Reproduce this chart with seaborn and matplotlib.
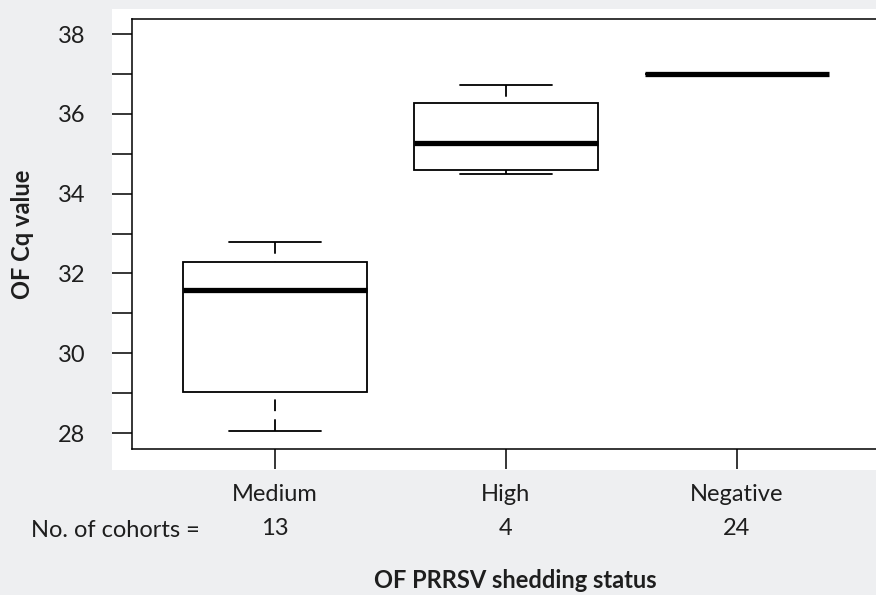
import numpy as np
import pandas as pd
import seaborn as sns
import matplotlib.pyplot as plt
from matplotlib.patches import Rectangle
from matplotlib.ticker import MultipleLocator

# ---- data (five-number summaries: min, Q1, median, Q3, max)
categories = ["Medium", "High", "Negative"]
n_cohorts = [13, 4, 24]
medium_summary = [28.05, 29.03, 31.58, 32.28, 32.78]
high_summary = [34.48, 34.58, 35.28, 36.28, 36.73]
negative_summary = [37.0, 37.0, 37.0, 37.0, 37.0]
y_ticks = [28, 30, 32, 34, 36, 38]
x_title = "OF PRRSV shedding status"
y_title = "OF Cq value"
count_label = "No. of cohorts ="

summaries = {"Medium": medium_summary, "High": high_summary, "Negative": negative_summary}
df = pd.DataFrame(
    [(cat, v) for cat in categories for v in summaries[cat]],
    columns=["status", "cq"],
)

sns.set_theme(style="white")
plt.rcParams["font.family"] = ["Lato", "DejaVu Sans"]

BG = "#eeeff1"
TXT = "#1e1e1e"
FS = 17
W, H = 876, 595
fig = plt.figure(figsize=(W / 100, H / 100), dpi=100, facecolor=BG)

# white panel behind plot
fig.patches.append(Rectangle((112 / W, 1 - 470 / H), (W - 112) / W, 461 / H,
                             transform=fig.transFigure, facecolor="white",
                             edgecolor="none", zorder=-5))

ax = fig.add_axes([132 / W, 1 - 449 / H, (W - 132) / W, 430 / H])
ax.set_facecolor("white")
ax.set_zorder(1)

sns.boxplot(data=df, x="status", y="cq", order=categories, whis=(0, 100),
            width=0.8, color="white", linecolor="black", linewidth=1.3,
            showfliers=False, ax=ax,
            medianprops={"linewidth": 3.8, "color": "black", "solid_capstyle": "butt"},
            whiskerprops={"linestyle": (0, (6.5, 4.5))},
            capprops={"linewidth": 1.3})

# draw whiskers from the cap towards the box (dash pattern anchored at cap)
for ln in ax.lines:
    xs, ys = ln.get_data()
    if len(xs) == 2 and xs[0] == xs[1] and ln.get_linestyle() not in ("-", "solid"):
        ln.set_data(xs[::-1], ys[::-1])

ax.set_xlim(-0.619, 2.602)
ax.set_ylim(27.6, 38.376)
ax.set_yticks(y_ticks)
ax.yaxis.set_minor_locator(MultipleLocator(1))
ax.set_xticks(range(len(categories)))
ax.set_xticklabels([f"{c}\n{n}" for c, n in zip(categories, n_cohorts)],
                   linespacing=1.75)
ax.set_xlabel("")
ax.set_ylabel("")

for side in ["left", "bottom", "top"]:
    ax.spines[side].set_visible(True)
    ax.spines[side].set_color("black")
    ax.spines[side].set_linewidth(1.1)
ax.spines["right"].set_visible(False)

ax.tick_params(axis="y", which="both", direction="out", length=14.4, width=1.1,
               color="black", left=True, labelsize=FS, labelcolor=TXT, pad=19)
ax.tick_params(axis="x", which="both", direction="out", length=14.4, width=1.1,
               color="black", bottom=True, labelsize=FS, labelcolor=TXT, pad=11)

fig.text(31 / W, 1 - 537 / H, count_label, ha="left", va="baseline",
         fontsize=FS, color=TXT)
fig.text(515 / W, 1 - 588 / H, x_title, ha="center", va="baseline",
         fontsize=FS, fontweight="bold", color=TXT)
fig.text(22 / W, 1 - 234 / H, y_title, ha="center", va="center", rotation=90,
         fontsize=FS, fontweight="bold", color=TXT)

fig.savefig("out.png", dpi=100, facecolor=BG)
